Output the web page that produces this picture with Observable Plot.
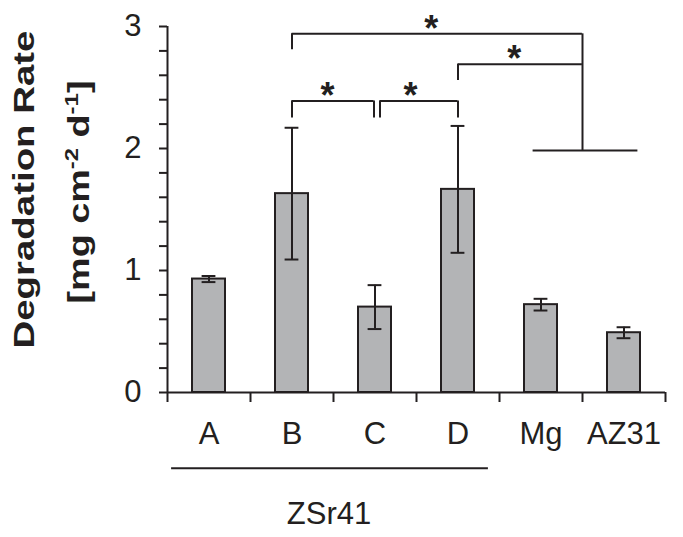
<!DOCTYPE html>
<html><head><meta charset="utf-8">
<script src="https://cdn.jsdelivr.net/npm/d3@7"></script>
<script src="https://cdn.jsdelivr.net/npm/@observablehq/plot@0.6"></script>
<style>html,body{margin:0;padding:0;background:#fff}svg{display:block}</style>
</head><body><div id="chart"></div>
<script>
// ---- data ----
const categories = ["A", "B", "C", "D", "Mg", "AZ31"];
const rates = [0.93, 1.63, 0.70, 1.665, 0.72, 0.49];
const errors = [0.025, 0.54, 0.18, 0.52, 0.048, 0.045];
const yTickLabels = [0, 1, 2, 3];
const yMinorTicks = [0, 0.2, 0.4, 0.6, 0.8, 1, 1.2, 1.4, 1.6, 1.8, 2, 2.2, 2.4, 2.6, 2.8, 3];
const groupLabel = "ZSr41";
const groupMembers = ["A", "B", "C", "D"];
const controls = ["Mg", "AZ31"];
const yTitle1 = "Degradation Rate";
const yTitle2 = "[mg cm-2 d-1]";
// significance brackets (y levels in data units)
const brackets = [
  {from: "B", to: "C", y: 2.39, leg: 2.25},
  {from: "C", to: "D", y: 2.39, leg: 2.25},
  {from: "D", to: "controls", y: 2.69, leg: 2.557},
  {from: "B", to: "controls", y: 2.94, leg: 2.809}
];
const controlLineY = 1.984;
const starLabel = "*";

// ---- layout ----
const W = 683, H = 537, ML = 167, MR = 18, MT = 26, MB = 145;
const ink = "#231f20";
const step = (W - ML - MR) / categories.length;
const pad = 0.6;
const bw = step * (1 - pad);
const half = bw / 2;
const idx = c => c === "controls" ? categories.indexOf(controls[0]) + 0.5 : categories.indexOf(c);

const table = categories.map((c, i) => ({category: c, rate: rates[i], err: errors[i]}));

function hLine(y, from, to, extL, extR, extra = {}) {
  return Plot.ruleY([{y, from, to}], {y: "y", x1: "from", x2: "to",
    insetLeft: half - extL, insetRight: half - extR, stroke: ink, strokeWidth: 2, ...extra});
}
function vLine(x, y1, y2, dx) {
  return Plot.ruleX([{x, y1, y2}], {x: "x", y1: "y1", y2: "y2", dx, stroke: ink, strokeWidth: 2});
}

const bracketMarks = [];
brackets.forEach(b => {
  const toGroup = b.to === "controls";
  const toCat = toGroup ? controls[0] : b.to;
  const leftShift = (b.from === "C") ? 5 : 0;   // small gap where two brackets meet
  const rightShift = (b.to === "C") ? -1 : 0;
  bracketMarks.push(hLine(b.y, b.from, toCat, -leftShift, toGroup ? step / 2 : rightShift));
  bracketMarks.push(vLine(b.from, b.leg, b.y, leftShift));
  if (!toGroup) bracketMarks.push(vLine(b.to, b.leg, b.y, rightShift));
  const span = (idx(b.to) - idx(b.from)) * step / 2;
  bracketMarks.push(Plot.text([starLabel], {x: () => b.from, y: () => b.y, text: d => d,
    dx: span - 6, dy: 7, lineAnchor: "bottom", fontSize: 36, fontWeight: "bold", fill: ink}));
});
const topY = Math.max(...brackets.filter(b => b.to === "controls").map(b => b.y));
bracketMarks.push(vLine(controls[0], controlLineY, topY, step / 2));
bracketMarks.push(hLine(controlLineY, controls[0], controls[1], 8, 14));

const plot = Plot.plot({
  width: W, height: H,
  marginLeft: ML, marginRight: MR, marginTop: MT, marginBottom: MB,
  style: {fontFamily: "'Liberation Sans', Arial, sans-serif", color: ink, background: "white", overflow: "visible"},
  x: {type: "band", domain: categories, paddingInner: pad, paddingOuter: pad / 2, axis: null},
  y: {domain: [0, 3], axis: null},
  marks: [
    // bars
    Plot.barY(table, {x: "category", y: "rate", fill: "#b3b4b6", stroke: ink, strokeWidth: 2}),
    // error bars
    Plot.ruleX(table, {x: "category", y1: d => d.rate - d.err, y2: d => d.rate + d.err, stroke: ink, strokeWidth: 2}),
    Plot.tickY(table, {x: "category", y: d => d.rate + d.err, inset: (bw - 14) / 2, stroke: ink, strokeWidth: 2}),
    Plot.tickY(table, {x: "category", y: d => d.rate - d.err, inset: (bw - 14) / 2, stroke: ink, strokeWidth: 2}),
    // y axis line + ticks
    Plot.ruleX([categories[0]], {x: d => d, y1: 0, y2: 3, dx: -step / 2, stroke: ink, strokeWidth: 2}),
    Plot.ruleY(yMinorTicks, {y: d => d, insetLeft: -8, insetRight: W - ML - MR, stroke: ink, strokeWidth: 2}),
    Plot.text(yTickLabels, {y: d => d, text: d => String(d), frameAnchor: "left", textAnchor: "end",
      lineAnchor: "middle", dx: -26, fontSize: 31, fill: ink}),
    // x axis line + boundary ticks
    Plot.ruleY([0], {stroke: ink, strokeWidth: 2}),
    Plot.ruleX(categories, {x: d => d, y1: 0, y2: 0, insetBottom: -10, dx: -step / 2, stroke: ink, strokeWidth: 2}),
    Plot.ruleX([categories[categories.length - 1]], {x: d => d, y1: 0, y2: 0, insetBottom: -10, dx: step / 2, stroke: ink, strokeWidth: 2}),
    Plot.text(categories, {x: d => d, text: d => d, frameAnchor: "bottom", lineAnchor: "middle", dy: 42, fontSize: 31, fill: ink}),
    // group label
    Plot.ruleY([0], {x1: () => groupMembers[0], x2: () => groupMembers[groupMembers.length - 1],
      insetLeft: half - 37.5, insetRight: half - 30.5, dy: 75.7, stroke: ink, strokeWidth: 2}),
    Plot.text([groupLabel], {x: () => groupMembers[0], text: d => d, frameAnchor: "bottom", lineAnchor: "middle",
      dx: (groupMembers.length - 1) * step / 2 - 4.5, dy: 122, fontSize: 31, fill: ink}),
    // y title
    Plot.text([yTitle1], {text: d => d, frameAnchor: "left", lineAnchor: "middle", rotate: -90, dx: 23.4 - ML, dy: -20,
      fontSize: 30, fontWeight: "bold", fill: ink}),
    Plot.text([yTitle2], {text: d => d, frameAnchor: "left", lineAnchor: "middle", rotate: -90, dx: 78.4 - ML, dy: -17.5,
      fontSize: 30, fontWeight: "bold", fill: ink}),
    ...bracketMarks
  ]
});
document.getElementById("chart").appendChild(plot);

// superscripts and stretched title lines
const svg = d3.select(plot);
svg.selectAll("text").each(function() {
  const t = d3.select(this);
  const s = this.textContent;
  if (s === yTitle1) {
    t.attr("text-anchor", "start").attr("x", -159)
      .attr("textLength", 318).attr("lengthAdjust", "spacingAndGlyphs");
  } else if (s === yTitle2) {
    t.text(null);
    t.append("tspan").text("[mg cm");
    t.append("tspan").attr("dy", -11).attr("font-size", 19).text("-2");
    t.append("tspan").attr("dy", 11).text(" d");
    t.append("tspan").attr("dy", -11).attr("font-size", 19).text("-1");
    t.append("tspan").attr("dy", 11).text("]");
    t.attr("text-anchor", "start").attr("x", -111.5)
      .attr("textLength", 223).attr("lengthAdjust", "spacingAndGlyphs");
  }
});
</script>
</body></html>
